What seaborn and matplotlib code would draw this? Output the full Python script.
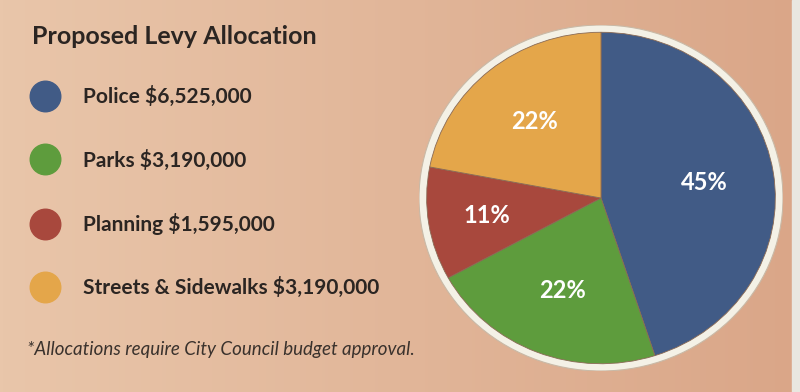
import numpy as np
import matplotlib
matplotlib.use("Agg")
import matplotlib.pyplot as plt
from matplotlib.lines import Line2D
from matplotlib.patches import Circle
import seaborn as sns

categories = ["Police", "Parks", "Planning", "Streets & Sidewalks"]
amounts = [6525000, 3190000, 1595000, 3190000]
colors = ["#415B86", "#5E9C3D", "#A8483D", "#E4A64A"]

title = "Proposed Levy Allocation"
footnote = "*Allocations require City Council budget approval."

sns.set_style("white")
plt.rcParams["font.family"] = ["Lato", "DejaVu Sans"]
palette = sns.color_palette(colors)

fig = plt.figure(figsize=(8, 3.92), dpi=100)

# paper background, a bit lighter on the left like the photo
bg = fig.add_axes([0, 0, 1, 1])
grad = np.linspace(0, 1, 256)[None, :, None]
left = np.array([233, 198, 170]) / 255
right = np.array([218, 166, 136]) / 255
bg.imshow(left + (right - left) * grad, aspect="auto", extent=[0, 1, 0, 1])
bg.axvspan(0.99, 1.0, color="#E9E7E0")
bg.set_xlim(0, 1)
bg.set_ylim(0, 1)
bg.axis("off")

# pie
ax = fig.add_axes([(601 - 182) / 800, (392 - 198 - 173) / 392, 364 / 800, 346 / 392])
ax.add_patch(Circle((0, 0), 1.0, facecolor="#F4F1E6", edgecolor="#C9B9A6", lw=0.8, zorder=0))
wedges, texts, autotexts = ax.pie(
    amounts, colors=palette, startangle=90, counterclock=False, radius=0.958,
    autopct="%1.0f%%", pctdistance=0.6,
    wedgeprops=dict(linewidth=0.6, edgecolor="#8a6a55"),
    textprops=dict(color="white", fontsize=17, fontweight="bold"),
)
autotexts[2].set_position(np.array(autotexts[2].get_position()) * 1.1)
ax.set_aspect("auto")
ax.set_xlim(-1.0, 1.0)
ax.set_ylim(-1.0, 1.0)
ax.axis("off")

fig.text(32 / 800, 1 - 37 / 392, title, fontsize=18, fontweight="bold",
         color="#2b2522", va="center", ha="left")

handles = [Line2D([], [], marker="o", linestyle="", markersize=22,
                  markerfacecolor=c, markeredgecolor=c) for c in palette]
labels = [f"{n} ${a:,}" for n, a in zip(categories, amounts)]
leg = fig.legend(handles, labels, loc="upper left", bbox_to_anchor=(20 / 800, 1 - 78 / 392),
                 frameon=False, labelspacing=2.03, handlelength=1.6, handletextpad=1.04,
                 borderaxespad=0,
                 prop=dict(family=["Lato", "DejaVu Sans"], weight="bold", size=15))
for t in leg.get_texts():
    t.set_color("#2b2522")

fig.text(27 / 800, 1 - 350 / 392, footnote, fontsize=13.5, style="italic",
         color="#3a322d", va="center", ha="left")

fig.savefig("out.png", dpi=100)
